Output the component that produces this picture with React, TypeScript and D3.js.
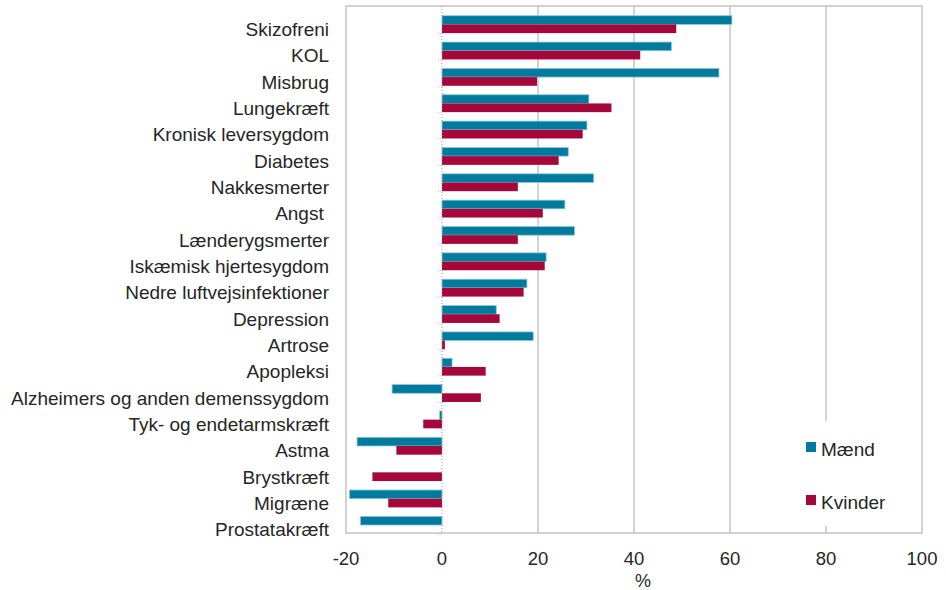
import React from "react";
import * as d3 from "d3";

const categories = [
  "Skizofreni",
  "KOL",
  "Misbrug",
  "Lungekræft",
  "Kronisk leversygdom",
  "Diabetes",
  "Nakkesmerter",
  "Angst ",
  "Lænderygsmerter",
  "Iskæmisk hjertesygdom",
  "Nedre luftvejsinfektioner",
  "Depression",
  "Artrose",
  "Apopleksi",
  "Alzheimers og anden demenssygdom",
  "Tyk- og endetarmskræft",
  "Astma",
  "Brystkræft",
  "Migræne",
  "Prostatakræft",
];

const maend: (number | null)[] = [
  60.4, 47.8, 57.7, 30.6, 30.2, 26.3, 31.6, 25.6, 27.6, 21.7, 17.7, 11.3, 19.0, 2.1, -10.4, -0.5, -17.7, null, -19.3, -17.0,
];
const kvinder: (number | null)[] = [
  48.8, 41.3, 19.8, 35.3, 29.3, 24.3, 15.8, 21.0, 15.8, 21.4, 17.0, 12.0, 0.6, 9.1, 8.1, -3.9, -9.5, -14.5, -11.2, null,
];
const xTicks = [-20, 0, 20, 40, 60, 80, 100];
const seriesNames = ["Mænd", "Kvinder"];
const colors = ["#007B9E", "#A5073B"];

const W = 946;
const H = 590;
const plot = { left: 346, right: 922, top: 6, bottom: 533 };
const font = "'Liberation Sans', Arial, sans-serif";

export default function App() {
  const x = d3.scaleLinear().domain([-20, 100]).range([plot.left, plot.right]);
  const y = d3.scaleBand<string>().domain(categories).range([plot.top + 1, plot.bottom + 1]).padding(0);
  const bw = y.bandwidth();
  const barH = bw * 0.33;
  const series = [maend, kvinder];
  const gridColor = "#c4c4c4";

  return (
    <svg width={W} height={H} style={{ position: "absolute", left: 0, top: 0, background: "#fff" }} fontFamily={font}>
      {/* gridlines */}
      {xTicks
        .filter((t) => t !== 0 && t !== -20 && t !== 100)
        .map((t) => (
          <line key={t} x1={x(t)} x2={x(t)} y1={plot.top} y2={plot.bottom} stroke={gridColor} strokeWidth={1.5} />
        ))}
      {/* plot frame */}
      <rect
        x={plot.left}
        y={plot.top}
        width={plot.right - plot.left}
        height={plot.bottom - plot.top}
        fill="none"
        stroke={gridColor}
        strokeWidth={1.5}
      />
      {/* bars */}
      {series.map((vals, si) =>
        vals.map((v, i) => {
          if (v === null) return null;
          const c = categories[i];
          const y0 = (y(c) as number) + bw * 0.33 + si * barH;
          const x0 = Math.min(x(0), x(v));
          const w = Math.abs(x(v) - x(0));
          return (
            <rect
              key={si + "-" + i}
              x={x0}
              y={y0}
              width={w}
              height={barH}
              fill={colors[si]}
              stroke={si === 0 ? "#8fc9d9" : "none"}
              strokeWidth={si === 0 ? 0.8 : 0}
            />
          );
        })
      )}
      {/* zero axis dotted */}
      <line x1={x(0)} x2={x(0)} y1={plot.top} y2={plot.bottom} stroke="#9a9a9a" strokeWidth={1} strokeDasharray="1,2" />
      {categories.map((c) => (
        <line
          key={"tk" + c}
          x1={x(0) - 4}
          x2={x(0)}
          y1={(y(c) as number) + bw}
          y2={(y(c) as number) + bw}
          stroke="#b0b0b0"
          strokeWidth={1}
          strokeDasharray="1,1.5"
        />
      ))}
      {/* category labels */}
      {categories.map((c) => (
        <text
          key={"l" + c}
          x={329}
          y={(y(c) as number) + 28.8}
          textAnchor="end"
          fontSize={19}
          fill="#262626"
          style={{ whiteSpace: "pre" }}
        >
          {c}
        </text>
      ))}
      {/* x tick labels */}
      {xTicks.map((t) => (
        <text key={"xt" + t} x={x(t)} y={565} textAnchor="middle" fontSize={18.5} fill="#262626">
          {t}
        </text>
      ))}
      <text x={643} y={587} textAnchor="middle" fontSize={18} fill="#262626">
        %
      </text>
      {/* legend */}
      <rect x={800} y={421} width={110} height={105} fill="#fff" />
      {seriesNames.map((n, i) => (
        <g key={n}>
          <rect x={806} y={442 + i * 53} width={10} height={10} fill={colors[i]} />
          <text x={821} y={456 + i * 53} fontSize={19} fill="#262626">
            {n}
          </text>
        </g>
      ))}
    </svg>
  );
}
